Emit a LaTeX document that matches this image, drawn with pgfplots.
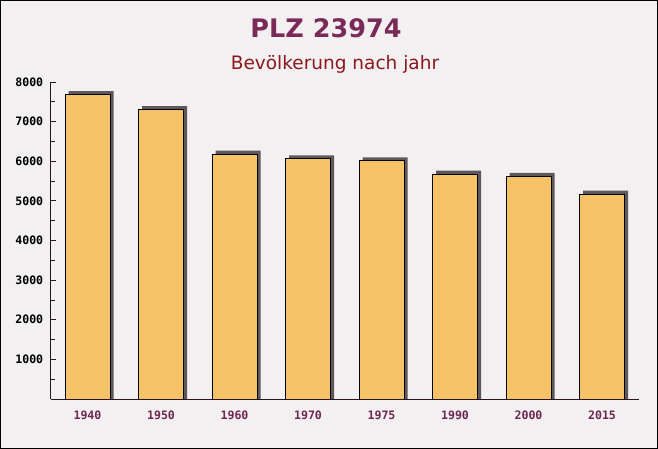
\documentclass[border=0pt]{standalone}
\usepackage{pgfplots}
\pgfplotsset{compat=1.18}
\usepackage{fontspec}
\setmainfont{DejaVu Sans}
\newfontfamily\tickfont{DejaVu Sans Mono}
\definecolor{bg}{RGB}{243,240,241}
\definecolor{barfill}{RGB}{246,194,104}
\definecolor{shadowc}{RGB}{95,88,90}
\definecolor{titlec}{RGB}{122,42,88}
\definecolor{subc}{RGB}{140,24,30}
\definecolor{xlab}{RGB}{110,40,80}
\definecolor{axisc}{RGB}{40,20,35}
\begin{document}
\begin{tikzpicture}[x=1bp,y=1bp]
\fill[bg] (0,0) rectangle (658,449);
\draw[black, line width=1bp] (0.5,0.5) rectangle (657.5,448.5);
\node[anchor=base, inner sep=0pt, text=titlec, font=\bfseries\fontsize{25.5bp}{30bp}\selectfont] at (326,411.7) {PLZ 23974};
\node[anchor=base, inner sep=0pt, text=subc, font=\fontsize{18.5bp}{22bp}\selectfont] at (335,379.7) {Bevölkerung nach jahr};
\begin{axis}[
  at={(50.75bp,50bp)}, anchor=south west,
  scale only axis, width=588bp, height=317bp,
  xmin=-0.5, xmax=7.5, ymin=0, ymax=8000,
  axis x line*=bottom, axis y line*=left,
  axis line style={axisc, line width=0.8bp},
  tick align=inside,
  tick style={axisc, line width=0.8bp},
  xtick={0,...,7},
  xticklabels={1940,1950,1960,1970,1975,1990,2000,2015},
  xtick style={draw=none},
  minor xtick={0.5,1.5,...,6.5},
  ytick={1000,2000,...,8000},
  minor ytick={500,1500,...,7500},
  major tick length=5bp, minor tick length=4bp,
  scaled y ticks=false,
  /pgf/number format/assume math mode=true,
  /pgf/number format/1000 sep={},
  yticklabel style={font=\tickfont\bfseries\fontsize{11.6bp}{13bp}\selectfont, text=black, xshift=-4bp},
  xticklabel style={font=\tickfont\bfseries\fontsize{11.6bp}{13bp}\selectfont, text=xlab, yshift=-3bp},
  ybar, bar width=45bp,
]
\addplot[fill=shadowc, draw=none, bar shift=3.5bp] coordinates {
(0,7770) (1,7390) (2,6270) (3,6150) (4,6100) (5,5765) (6,5705) (7,5260)};
\addplot[fill=barfill, draw=black, line width=0.8bp, bar shift=0bp] coordinates {
(0,7680) (1,7300) (2,6180) (3,6060) (4,6010) (5,5675) (6,5615) (7,5170)};
\end{axis}
\end{tikzpicture}
\end{document}
